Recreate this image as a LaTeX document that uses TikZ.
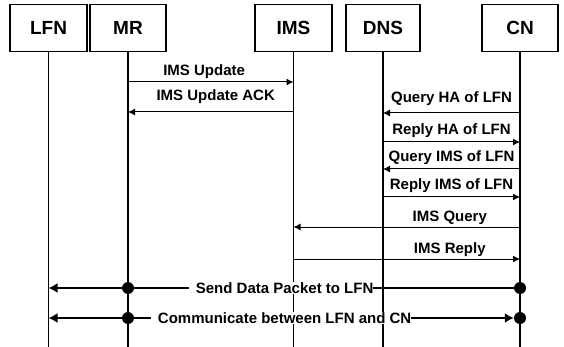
\documentclass[tikz,border=0pt]{standalone}
\usepackage{fontspec}
\setmainfont{Liberation Sans}
\usetikzlibrary{arrows.meta}
\begin{document}
\begin{tikzpicture}[x=1pt,y=-1pt,
  actor/.style={draw,line width=1.3pt,minimum width=76pt,minimum height=47pt,inner sep=0pt,
    font=\fontsize{19}{21}\selectfont\bfseries},
  life/.style={line width=1.1pt},
  msg/.style={line width=1pt,-{Latex[length=7pt,width=7pt]}},
  lbl/.style={font=\fontsize{15}{17}\selectfont\bfseries,anchor=base,inner sep=0pt},
  data/.style={line width=2pt},
  bigtip/.style={-{Latex[length=9pt,width=10pt]}},
  bothtips/.style={{Latex[length=9pt,width=10pt]}-{Latex[length=9pt,width=10pt]}},
  dot/.style={circle,fill,inner sep=0pt,minimum size=12pt},
  dlbl/.style={fill=white,inner sep=0pt,font=\fontsize{15}{17}\selectfont\bfseries}]
\useasboundingbox (0,0) rectangle (564,347);

% participants
\node[actor,minimum width=77pt] (lfn) at (48.5,28) {LFN};
\node[actor] (mr) at (128,28) {MR};
\node[actor,minimum width=77pt] (ims) at (293.5,28) {IMS};
\node[actor,minimum width=74pt] (dns) at (383,28) {DNS};
\node[actor] (cn) at (520,28) {CN};

% lifelines and the message levels on each of them
\foreach \n in {lfn,mr,ims,dns,cn} {
  \coordinate (\n-end) at (\n.south |- 0,347);
  \draw[life] (\n.south) -- (\n-end);
  \foreach \k/\y in {1/82,2/112,3/113,4/142,5/169,6/197,7/227,8/259,9/288,10/318}
    \coordinate (\n-\k) at (\n.south |- 0,\y);
}

% signalling
\draw[msg] (mr-1) -- node[lbl,pos=0.46,yshift=6pt] {IMS Update} (ims-1);
\draw[msg] (ims-2) -- node[lbl,pos=0.47,yshift=11pt] {IMS Update ACK} (mr-2);
\draw[msg] (cn-3) -- node[lbl,yshift=10pt] {Query HA of LFN} (dns-3);
\draw[msg] (dns-4) -- node[lbl,yshift=7pt] {Reply HA of LFN} (cn-4);
\draw[msg] (cn-5) -- node[lbl,yshift=7pt] {Query IMS of LFN} (dns-5);
\draw[msg] (dns-6) -- node[lbl,yshift=7pt] {Reply IMS of LFN} (cn-6);
\draw[msg] (cn-7) -- node[lbl,pos=0.31,yshift=5pt] {IMS Query} (ims-7);
\draw[msg] (ims-8) -- node[lbl,pos=0.69,yshift=6pt] {IMS Reply} (cn-8);

% data exchange
\node[dot] (cnA) at (cn-9) {};
\node[dot] (cnB) at (cn-10) {};
\draw[data,bigtip] (cnA) -- node[dlbl] {\hspace{7pt}Send Data Packet to LFN} (lfn-9);
\draw[data,bothtips] (lfn-10) -- node[dlbl] {\hspace{7pt}Communicate between LFN and CN} (cnB);
\node[dot] (mrA) at (mr-9) {};
\node[dot] (mrB) at (mr-10) {};
\end{tikzpicture}
\end{document}
